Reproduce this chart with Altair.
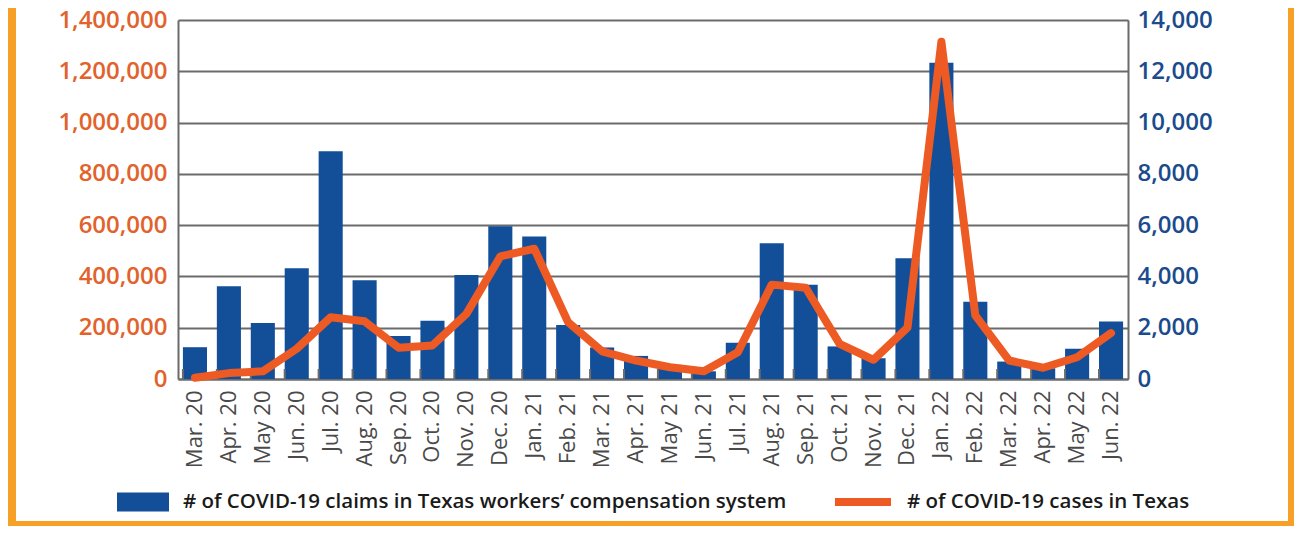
import altair as alt
import pandas as pd

months = ["Mar. 20", "Apr. 20", "May 20", "Jun. 20", "Jul. 20", "Aug. 20", "Sep. 20",
          "Oct. 20", "Nov. 20", "Dec. 20", "Jan. 21", "Feb. 21", "Mar. 21", "Apr. 21",
          "May 21", "Jun. 21", "Jul. 21", "Aug. 21", "Sep. 21", "Oct. 21", "Nov. 21",
          "Dec. 21", "Jan. 22", "Feb. 22", "Mar. 22", "Apr. 22", "May 22", "Jun. 22"]

# workers' compensation claims (right axis)
claims = [1240, 3620, 2180, 4320, 8880, 3850, 1680, 2270, 4060, 5960, 5560, 2110,
          1230, 900, 550, 300, 1410, 5290, 3680, 1270, 810, 4710, 12330, 3010,
          680, 420, 1180, 2240]

# COVID-19 cases in Texas (left axis)
cases = [5000, 23000, 30000, 118000, 241000, 225000, 122000, 131000, 254000, 478000,
         508000, 221000, 108000, 72000, 46000, 30000, 104000, 368000, 356000, 137000,
         75000, 200000, 1315000, 248000, 72000, 44000, 85000, 179000]

left_ticks = [0, 200000, 400000, 600000, 800000, 1000000, 1200000, 1400000]
right_ticks = [0, 2000, 4000, 6000, 8000, 10000, 12000, 14000]

claims_label = "# of COVID-19 claims in Texas workers\u2019 compensation system"
cases_label = "# of COVID-19 cases in Texas"

bars_df = pd.DataFrame({"month": months, "claims": claims, "series": claims_label})
line_df = pd.DataFrame({"month": months, "cases": cases, "series": cases_label})
tick_df = pd.DataFrame({"month": months})
frame_df = pd.DataFrame({"k": [0]})

FONT = "Open Sans"
GREY = "#6b6b6b"
BLUE_BAR = "#134F99"
BLUE_TXT = "#1B4B8C"
ORANGE_LINE = "#EE5A24"
ORANGE_TXT = "#E2622B"
FRAME = "#F7A028"

x_axis = alt.Axis(title=None, labelAngle=-90, labelFont=FONT, labelFontSize=22,
                  labelColor="#4a4a4a", labelPadding=11, ticks=False,
                  domainColor=GREY, domainWidth=2, grid=False,
                  labelBaseline="middle", labelAlign="right")
x_scale = alt.Scale(paddingInner=0.29, paddingOuter=0.145)

frame = alt.Chart(frame_df).mark_rect(filled=False, stroke=FRAME, strokeWidth=12).encode(
    x=alt.value(-168), x2=alt.value(1116), y=alt.value(-40), y2=alt.value(507)
)

bars = alt.Chart(bars_df).mark_bar().encode(
    x=alt.X("month:N", sort=months, scale=x_scale, axis=x_axis),
    y=alt.Y("claims:Q", scale=alt.Scale(domain=[0, 14000], nice=False),
            axis=alt.Axis(orient="right", values=right_ticks, format=",d", title=None,
                          grid=False, ticks=False, labelFont=FONT, labelFontSize=24,
                          labelFontWeight=600, labelColor=BLUE_TXT, labelPadding=9,
                          domainColor=GREY, domainWidth=2)),
    color=alt.Color("series:N", scale=alt.Scale(domain=[claims_label], range=[BLUE_BAR]),
                    legend=alt.Legend(title=None, orient="none", legendX=-61, legendY=456,
                                      symbolType="M-1,-0.365L1,-0.365L1,0.365L-1,0.365Z",
                                      symbolSize=2704, symbolStrokeWidth=0,
                                      labelFont=FONT, labelFontSize=20.5, labelFontWeight=600,
                                      labelColor="#1a1a1a", labelOffset=14, labelLimit=900,
                                      padding=0)),
)

ticks = alt.Chart(tick_df).mark_rule(color=GREY, strokeWidth=2).encode(
    x=alt.X("month:N", sort=months, scale=x_scale, axis=x_axis, bandPosition=0),
    y=alt.value(349), y2=alt.value(359),
)

line = alt.Chart(line_df).mark_line(strokeWidth=8, strokeJoin="round", strokeCap="round").encode(
    x=alt.X("month:N", sort=months, scale=x_scale, axis=x_axis),
    y=alt.Y("cases:Q", scale=alt.Scale(domain=[0, 1400000], nice=False),
            axis=alt.Axis(orient="left", values=left_ticks, format=",d", title=None,
                          grid=True, gridColor=GREY, gridWidth=2, ticks=False,
                          labelFont=FONT, labelFontSize=24, labelFontWeight=600,
                          labelColor=ORANGE_TXT, labelPadding=11,
                          domainColor=GREY, domainWidth=2)),
    stroke=alt.Stroke("series:N", scale=alt.Scale(domain=[cases_label], range=[ORANGE_LINE]),
                      legend=alt.Legend(title=None, orient="none", legendX=653, legendY=450,
                                        symbolType="stroke", symbolSize=3136,
                                        symbolStrokeWidth=8,
                                        labelFont=FONT, labelFontSize=20.5, labelFontWeight=600,
                                        labelColor="#1a1a1a", labelOffset=12, labelLimit=900,
                                        padding=0)),
)

chart = alt.layer(frame, bars, ticks, line).resolve_scale(y="independent").properties(
    width=950, height=359,
    autosize=alt.AutoSizeParams(type="none"),
    padding={"left": 170, "top": 12, "right": 166, "bottom": 147},
).configure_view(stroke=None).configure(background="white")

chart.save("out.html", embed_options={"renderer": "svg", "actions": False})
